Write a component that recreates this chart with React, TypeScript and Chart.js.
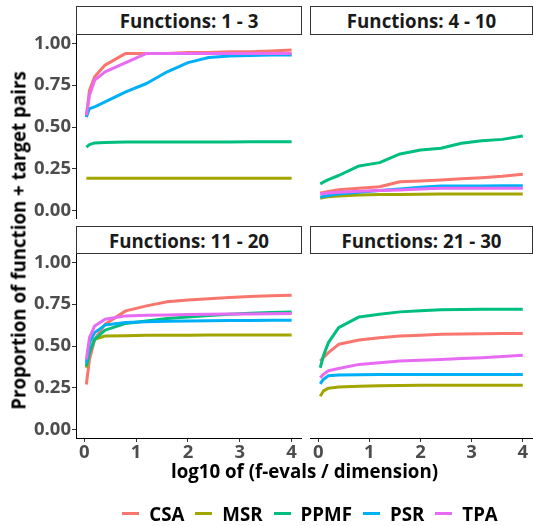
import React, { useEffect, useRef } from "react";
import { Chart, registerables } from "chart.js";

Chart.register(...registerables);

// ---------- data ----------
const seriesNames = ["CSA", "MSR", "PPMF", "PSR", "TPA"];
const seriesColors = ["#F8766D", "#A3A500", "#00BF7D", "#00B0F6", "#E76BF3"];
const facetTitles = ["Functions: 1 - 3", "Functions: 4 - 10", "Functions: 11 - 20", "Functions: 21 - 30"];

const xValues = [0.04, 0.1, 0.2, 0.4, 0.8, 1.2, 1.6, 2.0, 2.4, 2.8, 3.2, 3.6, 4.0];
const xTickValues = [0, 1, 2, 3, 4];
const xTickLabels = ["0", "1", "2", "3", "4"];
const yTickValues = [0, 0.25, 0.5, 0.75, 1];
const yTickLabels = ["0.00", "0.25", "0.50", "0.75", "1.00"];

const xTitle = "log10 of (f-evals / dimension)";
const yTitle = "Proportion of function + target pairs";

// Functions 1 - 3
const f1_CSA = [0.56, 0.72, 0.8, 0.87, 0.94, 0.94, 0.94, 0.945, 0.945, 0.95, 0.95, 0.955, 0.96];
const f1_MSR = [0.194, 0.194, 0.194, 0.194, 0.194, 0.194, 0.194, 0.194, 0.194, 0.194, 0.194, 0.194, 0.194];
const f1_PPMF = [0.38, 0.395, 0.405, 0.408, 0.41, 0.41, 0.41, 0.411, 0.411, 0.411, 0.412, 0.412, 0.412];
const f1_PSR = [0.56, 0.61, 0.62, 0.65, 0.71, 0.76, 0.83, 0.885, 0.915, 0.925, 0.928, 0.93, 0.93];
const f1_TPA = [0.57, 0.69, 0.78, 0.83, 0.885, 0.94, 0.94, 0.94, 0.94, 0.94, 0.94, 0.94, 0.94];

// Functions 4 - 10
const f2_CSA = [0.104, 0.108, 0.115, 0.125, 0.134, 0.143, 0.173, 0.177, 0.183, 0.19, 0.197, 0.205, 0.217];
const f2_MSR = [0.074, 0.078, 0.083, 0.088, 0.094, 0.096, 0.097, 0.098, 0.099, 0.1, 0.1, 0.1, 0.1];
const f2_PPMF = [0.16, 0.17, 0.185, 0.21, 0.267, 0.287, 0.339, 0.362, 0.373, 0.403, 0.418, 0.426, 0.446];
const f2_PSR = [0.08, 0.085, 0.09, 0.1, 0.11, 0.12, 0.13, 0.14, 0.148, 0.148, 0.148, 0.149, 0.149];
const f2_TPA = [0.1, 0.102, 0.105, 0.11, 0.116, 0.12, 0.124, 0.13, 0.134, 0.134, 0.134, 0.134, 0.134];

// Functions 11 - 20
const f3_CSA = [0.27, 0.42, 0.54, 0.63, 0.71, 0.74, 0.764, 0.775, 0.782, 0.79, 0.796, 0.8, 0.804];
const f3_MSR = [0.37, 0.47, 0.54, 0.56, 0.562, 0.564, 0.565, 0.565, 0.566, 0.566, 0.566, 0.566, 0.566];
const f3_PPMF = [0.38, 0.46, 0.54, 0.595, 0.635, 0.65, 0.665, 0.674, 0.683, 0.69, 0.696, 0.7, 0.704];
const f3_PSR = [0.4, 0.52, 0.58, 0.625, 0.64, 0.645, 0.648, 0.65, 0.651, 0.652, 0.653, 0.654, 0.654];
const f3_TPA = [0.42, 0.55, 0.62, 0.66, 0.68, 0.684, 0.686, 0.688, 0.69, 0.691, 0.692, 0.693, 0.694];

// Functions 21 - 30
const f4_CSA = [0.41, 0.43, 0.46, 0.51, 0.536, 0.55, 0.56, 0.565, 0.57, 0.572, 0.573, 0.574, 0.574];
const f4_MSR = [0.2, 0.23, 0.248, 0.255, 0.26, 0.262, 0.264, 0.265, 0.266, 0.266, 0.266, 0.266, 0.266];
const f4_PPMF = [0.37, 0.44, 0.52, 0.61, 0.674, 0.69, 0.704, 0.71, 0.716, 0.718, 0.72, 0.72, 0.72];
const f4_PSR = [0.274, 0.3, 0.322, 0.327, 0.328, 0.329, 0.33, 0.33, 0.33, 0.33, 0.33, 0.33, 0.33];
const f4_TPA = [0.31, 0.33, 0.352, 0.365, 0.39, 0.4, 0.41, 0.415, 0.42, 0.425, 0.43, 0.437, 0.444];

const facetSeries = [
  [f1_CSA, f1_MSR, f1_PPMF, f1_PSR, f1_TPA],
  [f2_CSA, f2_MSR, f2_PPMF, f2_PSR, f2_TPA],
  [f3_CSA, f3_MSR, f3_PPMF, f3_PSR, f3_TPA],
  [f4_CSA, f4_MSR, f4_PPMF, f4_PSR, f4_TPA],
];

// ---------- layout ----------
const FONT = "'Open Sans', 'Noto Sans', sans-serif";
const TEXT_SIZE = 18.7;
const tickFont = { family: FONT, size: 18.5, weight: "bold" as const };

const panelLayout = [
  { left: 0, top: 27, width: 302, height: 192, showX: false, showY: true },
  { left: 310, top: 27, width: 223, height: 192, showX: false, showY: false },
  { left: 0, top: 246, width: 302, height: 216, showX: true, showY: true },
  { left: 310, top: 246, width: 223, height: 216, showX: true, showY: false },
];
const stripLayout = [
  { left: 76, top: 6, width: 226, height: 29 },
  { left: 310, top: 6, width: 223, height: 29 },
  { left: 76, top: 226, width: 226, height: 28 },
  { left: 310, top: 226, width: 223, height: 28 },
];

function Panel({ idx }: { idx: number }) {
  const ref = useRef<HTMLCanvasElement | null>(null);
  const lay = panelLayout[idx];
  useEffect(() => {
    if (!ref.current) return;
    const series = facetSeries[idx];
    const chart = new Chart(ref.current, {
      type: "line",
      data: {
        datasets: series.map((vals, i) => ({
          label: seriesNames[i],
          data: vals.map((v, j) => ({ x: xValues[j], y: v })),
          borderColor: seriesColors[i],
          backgroundColor: seriesColors[i],
          borderWidth: 3,
          pointRadius: 0,
          tension: 0,
          fill: false,
          borderJoinStyle: "round",
          order: seriesNames.length - i,
        })),
      },
      options: {
        animation: false,
        responsive: false,
        maintainAspectRatio: false,
        layout: { padding: { top: 8, left: 0, right: 0, bottom: 0 } },
        plugins: { legend: { display: false }, tooltip: { enabled: false }, title: { display: false } },
        scales: {
          x: {
            type: "linear",
            min: -0.16,
            max: 4.2,
            display: lay.showX,
            afterBuildTicks: (s: any) => {
              s.ticks = xTickValues.map((v) => ({ value: v }));
            },
            afterFit: (s: any) => {
              if (lay.showX) s.height = 24;
              s.paddingLeft = 0;
              s.paddingRight = 0;
            },
            grid: { display: true, drawOnChartArea: false, drawTicks: true, tickLength: 4, tickColor: "#333333", tickWidth: 1 },
            border: { display: true, color: "#000000", width: 1 },
            ticks: {
              color: "#4D4D4D",
              font: tickFont,
              padding: 0,
              maxRotation: 0,
              autoSkip: false,
              callback: (v: any) => xTickLabels[xTickValues.indexOf(Number(v))] ?? "",
            },
          },
          y: {
            type: "linear",
            min: -0.05,
            max: 1.05,
            display: lay.showY,
            afterBuildTicks: (s: any) => {
              s.ticks = yTickValues.map((v) => ({ value: v }));
            },
            afterFit: (s: any) => {
              if (lay.showY) s.width = 76;
              s.paddingTop = 0;
              s.paddingBottom = 0;
            },
            grid: { display: true, drawOnChartArea: false, drawTicks: true, tickLength: 4, tickColor: "#333333", tickWidth: 1 },
            border: { display: true, color: "#000000", width: 1 },
            ticks: {
              color: "#4D4D4D",
              font: tickFont,
              padding: 1,
              autoSkip: false,
              callback: (v: any) => yTickLabels[yTickValues.indexOf(Number(v))] ?? "",
            },
          },
        },
      } as any,
    });
    return () => chart.destroy();
  }, [idx]);
  return (
    <canvas
      ref={ref}
      width={lay.width}
      height={lay.height}
      style={{ position: "absolute", left: lay.left, top: lay.top, width: lay.width, height: lay.height }}
    />
  );
}

export default function App() {
  return (
    <div
      style={{
        position: "fixed",
        left: 0,
        top: 0,
        width: 533,
        height: 526,
        background: "#ffffff",
        fontFamily: FONT,
        overflow: "hidden",
      }}
    >
      {stripLayout.map((s, i) => (
        <div
          key={"strip" + i}
          style={{
            position: "absolute",
            left: s.left,
            top: s.top,
            width: s.width,
            height: s.height,
            boxSizing: "border-box",
            border: "1px solid #333333",
            display: "flex",
            alignItems: "center",
            justifyContent: "center",
            fontSize: TEXT_SIZE,
            fontWeight: "bold",
            color: "#1A1A1A",
            lineHeight: "19px",
            whiteSpace: "nowrap",
          }}
        >
          {facetTitles[i]}
        </div>
      ))}
      {panelLayout.map((_, i) => (
        <Panel key={"panel" + i} idx={i} />
      ))}
      <div
        style={{
          position: "absolute",
          left: 76,
          width: 457,
          top: 461,
          textAlign: "center",
          fontSize: TEXT_SIZE,
          lineHeight: "19px",
          fontWeight: "bold",
          color: "#000",
          whiteSpace: "nowrap",
        }}
      >
        {xTitle}
      </div>
      <div
        style={{
          position: "absolute",
          left: 18 - 200,
          top: 240 - 9,
          width: 400,
          height: 19,
          transform: "rotate(-90deg)",
          transformOrigin: "50% 50%",
          textAlign: "center",
          fontSize: TEXT_SIZE,
          lineHeight: "19px",
          fontWeight: "bold",
          color: "#000",
          whiteSpace: "nowrap",
        }}
      >
        {yTitle}
      </div>
      <div
        style={{
          position: "absolute",
          left: 87,
          width: 446,
          top: 504,
          height: 19,
          display: "flex",
          justifyContent: "center",
          alignItems: "center",
          fontSize: TEXT_SIZE,
          lineHeight: "19px",
          fontWeight: "bold",
          color: "#000",
          whiteSpace: "nowrap",
        }}
      >
        {seriesNames.map((n, i) => (
          <div key={n} style={{ display: "flex", alignItems: "center", marginLeft: i === 0 ? 0 : 11 }}>
            <div style={{ width: 17, height: 3, background: seriesColors[i], marginRight: 10 }} />
            <span>{n}</span>
          </div>
        ))}
      </div>
    </div>
  );
}
